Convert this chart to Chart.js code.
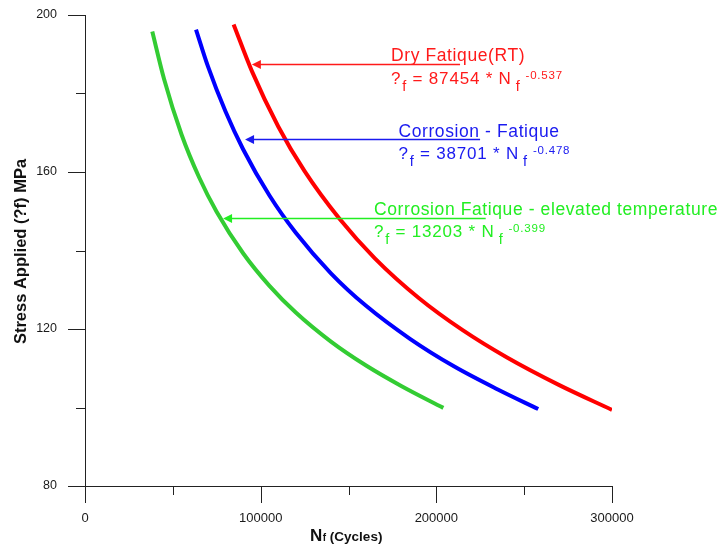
<!DOCTYPE html>
<html>
<head>
<meta charset="utf-8">
<script src="https://cdn.jsdelivr.net/npm/chart.js@4/dist/chart.umd.min.js"></script>
<style>
html,body{margin:0;padding:0;background:#fff;}
#wrap{position:relative;width:720px;height:546px;}
</style>
</head>
<body>
<div id="wrap"><canvas id="c" width="720" height="546"></canvas></div>
<script>
// ---- data ----
const cyclesDry   = [84600, 95000, 110000, 125000, 145000, 165000, 190000, 215000, 240000, 270000, 300000];
const stressDry   = [197.6, 185.7, 171.6, 160.2, 148.0, 138.0, 127.9, 119.7, 112.8, 105.7, 99.4];
const cyclesCorr  = [63200, 70000, 80000, 90000, 105000, 120000, 140000, 160000, 185000, 210000, 235000, 258000];
const stressCorr  = [196.3, 186.9, 175.4, 165.8, 154.0, 144.5, 134.2, 125.9, 117.5, 110.5, 104.6, 99.6];
const cyclesHot   = [38300, 45000, 55000, 65000, 75000, 90000, 105000, 120000, 140000, 160000, 180000, 204000];
const stressHot   = [195.8, 183.7, 169.5, 158.6, 149.8, 139.3, 131.0, 124.2, 116.8, 110.7, 105.5, 99.9];

const xTickValues = [0, 100000, 200000, 300000];
const xMinorTicks = [50000, 150000, 250000];
const yTickValues = [80, 120, 160, 200];
const yMinorTicks = [100, 140, 180];

const seriesNames = ['Dry Fatique(RT)', 'Corrosion - Fatique', 'Corrosion Fatique - elevated temperature'];
const coefficients = ['87454', '38701', '13203'];
const exponents = ['-0.537', '-0.478', '-0.399'];
const xTitleMain = 'N', xTitleSub = 'f', xTitleRest = ' (Cycles)';
const yTitle = 'Stress Applied (?f) MPa';

// annotation anchors in data units
const annTipN   = [95000, 91100, 78600];
const annLineS  = [187.5, 168.3, 148.2];
const annEndN   = [213500, 224900, 228100];
const annTextN  = [174200, 178400, 164500];
const annTitleS = [188.3, 169.0, 149.0];
const annEqS    = [182.4, 163.2, 143.4];

// ---- styles ----
const FAM = '"Liberation Sans", Arial, sans-serif';
const curveColors = ['#ff0000', '#0000ff', '#33cc33'];
const textColors  = ['#ff1a1a', '#1a1af0', '#22ee22'];
const axisColor = '#222222';

function pts(xs, ys){ return xs.map((x,i)=>({x:x, y:ys[i]})); }

const annotationPlugin = {
  id: 'extras',
  afterDraw(chart){
    const ctx = chart.ctx;
    const xs = chart.scales.x, ys = chart.scales.y;
    const ca = chart.chartArea;
    ctx.save();
    ctx.strokeStyle = axisColor; ctx.lineWidth = 1;
    ctx.beginPath();
    yTickValues.forEach(v=>{ const p = Math.round(ys.getPixelForValue(v))+0.5; ctx.moveTo(ca.left-17, p); ctx.lineTo(ca.left, p); });
    yMinorTicks.forEach(v=>{ const p = Math.round(ys.getPixelForValue(v))+0.5; ctx.moveTo(ca.left-9, p); ctx.lineTo(ca.left, p); });
    xTickValues.forEach(v=>{ const p = Math.round(xs.getPixelForValue(v))+0.5; ctx.moveTo(p, ca.bottom); ctx.lineTo(p, ca.bottom+17); });
    xMinorTicks.forEach(v=>{ const p = Math.round(xs.getPixelForValue(v))+0.5; ctx.moveTo(p, ca.bottom); ctx.lineTo(p, ca.bottom+9); });
    ctx.stroke();

    // y title
    ctx.fillStyle = '#111';
    ctx.font = 'bold 16.5px ' + FAM;
    ctx.textAlign = 'center'; ctx.textBaseline = 'middle';
    ctx.save();
    ctx.translate(21, (ca.top+ca.bottom)/2 + 1);
    ctx.rotate(-Math.PI/2);
    ctx.fillText(yTitle, 0, 0);
    ctx.restore();

    // x title
    ctx.textAlign = 'left'; ctx.textBaseline = 'alphabetic';
    let tx = 310; const ty = 541;
    ctx.font = 'bold 17px ' + FAM; ctx.fillText(xTitleMain, tx, ty); tx += ctx.measureText(xTitleMain).width + 0.5;
    ctx.font = 'bold 10px ' + FAM; ctx.fillText(xTitleSub, tx, ty); tx += ctx.measureText(xTitleSub).width;
    ctx.font = 'bold 13.5px ' + FAM; ctx.fillText(xTitleRest, tx, ty);

    // annotations
    for (let i = 0; i < 3; i++) {
      const col = textColors[i];
      const tipX = xs.getPixelForValue(annTipN[i]);
      const endX = xs.getPixelForValue(annEndN[i]);
      const ly = Math.round(ys.getPixelForValue(annLineS[i])) + 0.5;
      ctx.strokeStyle = col; ctx.fillStyle = col; ctx.lineWidth = 1.3;
      ctx.beginPath(); ctx.moveTo(tipX + 6, ly); ctx.lineTo(endX, ly); ctx.stroke();
      ctx.beginPath(); ctx.moveTo(tipX, ly); ctx.lineTo(tipX + 9, ly - 4.5); ctx.lineTo(tipX + 9, ly + 4.5); ctx.closePath(); ctx.fill();

      const lx = xs.getPixelForValue(annTextN[i]);
      const tyl = ys.getPixelForValue(annTitleS[i]);
      const ey = ys.getPixelForValue(annEqS[i]);
      if ('letterSpacing' in ctx) ctx.letterSpacing = '0.6px';
      ctx.font = '17.5px ' + FAM;
      ctx.fillText(seriesNames[i], lx, tyl);
      if ('letterSpacing' in ctx) ctx.letterSpacing = '0.8px';
      let cx = lx;
      ctx.font = '17px ' + FAM; ctx.fillText('?', cx, ey); cx += ctx.measureText('?').width + 1;
      ctx.font = '14.5px ' + FAM; ctx.fillText('f', cx, ey + 6.5); cx += ctx.measureText('f').width;
      const mid = ' = ' + coefficients[i] + ' * N';
      ctx.font = '17px ' + FAM; ctx.fillText(mid, cx, ey); cx += ctx.measureText(mid).width + 4;
      ctx.font = '14.5px ' + FAM; ctx.fillText('f', cx, ey + 6.5); cx += ctx.measureText('f').width + 5;
      ctx.font = '11.5px ' + FAM; ctx.fillText(exponents[i], cx, ey - 5.5);
      if ('letterSpacing' in ctx) ctx.letterSpacing = '0px';
    }
    ctx.restore();
  }
};

const lineDs = (label, xs, ys, color) => ({
  label: label, data: pts(xs, ys), borderColor: color, backgroundColor: color,
  borderWidth: 4, pointRadius: 0, fill: false, cubicInterpolationMode: 'monotone'
});

new Chart(document.getElementById('c').getContext('2d'), {
  type: 'line',
  data: { datasets: [
    lineDs(seriesNames[0], cyclesDry, stressDry, curveColors[0]),
    lineDs(seriesNames[1], cyclesCorr, stressCorr, curveColors[1]),
    lineDs(seriesNames[2], cyclesHot, stressHot, curveColors[2])
  ]},
  options: {
    responsive: false, animation: false, devicePixelRatio: 1,
    layout: { padding: { top: 15, right: 108, left: 0, bottom: 0 } },
    plugins: { legend: { display: false }, tooltip: { enabled: false } },
    scales: {
      x: {
        type: 'linear', min: 0, max: 300000,
        afterBuildTicks: s => { s.ticks = xTickValues.map(v => ({ value: v })); },
        afterFit: s => { s.height = 60; s.paddingLeft = 0; s.paddingRight = 0; s.paddingTop = 0; s.paddingBottom = 0; },
        grid: { display: true, drawOnChartArea: false, drawTicks: false },
        border: { display: true, color: axisColor, width: 1 },
        ticks: { callback: v => String(v), font: { family: FAM, size: 13 }, color: '#1a1a1a', padding: 25, maxRotation: 0, autoSkip: false }
      },
      y: {
        type: 'linear', min: 80, max: 200,
        afterBuildTicks: s => { s.ticks = yTickValues.map(v => ({ value: v })); },
        afterFit: s => { s.width = 85; s.paddingTop = 0; s.paddingBottom = 0; s.paddingLeft = 0; s.paddingRight = 0; },
        grid: { display: true, drawOnChartArea: false, drawTicks: false },
        border: { display: true, color: axisColor, width: 1 },
        ticks: { callback: v => String(v), font: { family: FAM, size: 12.5 }, color: '#1a1a1a', padding: 28, autoSkip: false }
      }
    }
  },
  plugins: [annotationPlugin]
});
</script>
</body>
</html>
